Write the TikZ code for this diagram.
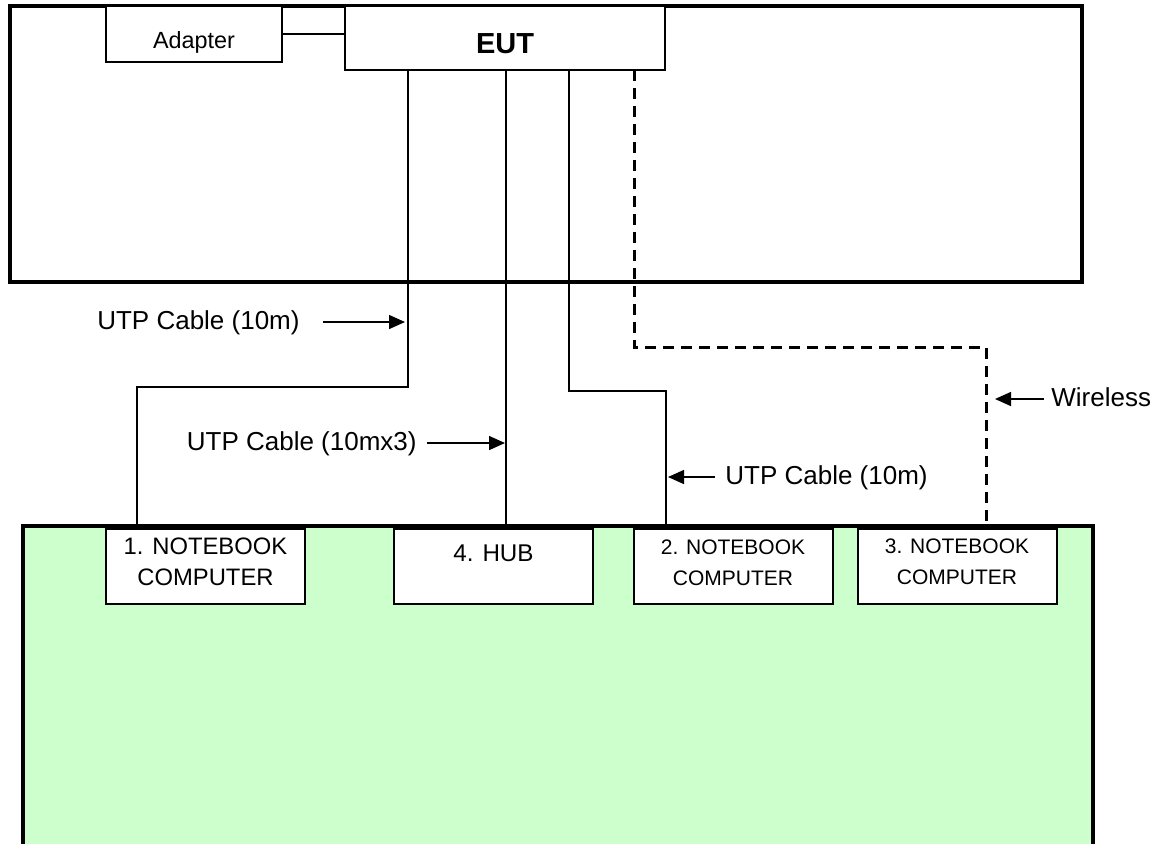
\documentclass[tikz,border=0pt]{standalone}
\usepackage{fontspec}
\setmainfont{Liberation Sans}
\usetikzlibrary{arrows.meta,positioning}
\definecolor{benchgreen}{HTML}{CCFFCC}

\begin{document}
\begin{tikzpicture}[x=0.5pt, y=-0.5pt]
  \tikzstyle{box} = [draw, fill=white, line width=0.8pt, inner sep=0pt, outer sep=0pt]
  \tikzstyle{unit} = [box, minimum width=99.5pt, minimum height=37.5pt]
  \tikzstyle{txt} = [inner sep=0pt, align=center]
  \tikzstyle{lbl} = [inner sep=0pt, text height=0.72em, text depth=0pt, font=\fontsize{13}{15}\selectfont]
  \tikzstyle{cable} = [line width=0.7pt]
  \tikzstyle{radio} = [line width=1.5pt, dash pattern=on 5.5pt off 3.5pt]
  \tikzstyle{arr} = [-{Triangle[length=8pt,width=7pt]}, line width=0.75pt]
  \useasboundingbox (0,0) rectangle (1168,843);
  \clip (0,0) rectangle (1168,843);

  % EUT side
  \draw[line width=2pt] (10,6) rectangle (1082,282);
  \node[box, minimum width=88pt, minimum height=28pt] (adp) at (194,34) {};
  \node[txt, anchor=base, font=\fontsize{11.7}{14}\selectfont] (adpt) at (194,48) {Adapter};
  \node[box, minimum width=160pt, minimum height=32pt] (eut) at (505,38) {};
  \node[txt, anchor=base, font=\fontsize{14.5}{17}\selectfont\bfseries] (eutt) at (505,53) {EUT};
  \draw[cable] (adp.east) -- (adp.east -| eut.west);

  % support units
  \node[draw, fill=benchgreen, line width=2pt, inner sep=0pt, outer sep=0pt,
        minimum width=535pt, minimum height=200pt, anchor=north west] (bench) at (23,526) {};
  \node[unit] (nb1) at (205.5,566.5) {};
  \node[unit] (hub) at (493.5,566.5) {};
  \node[unit] (nb2) at (733.5,566.5) {};
  \node[unit] (nb3) at (957.5,566.5) {};
  \node[txt, anchor=north, font=\fontsize{11.9}{15.5}\selectfont] (nb1t) at (205.5,537) {1. NOTEBOOK\\COMPUTER};
  \node[txt, anchor=north, font=\fontsize{12.1}{15.5}\selectfont] (hubt) at (493.5,544) {4. HUB};
  \node[txt, anchor=north, font=\fontsize{10.5}{15.5}\selectfont] (nb2t) at (733,539) {2. NOTEBOOK\\COMPUTER};
  \node[txt, anchor=north, font=\fontsize{10.5}{15.5}\selectfont] (nb3t) at (957,538) {3. NOTEBOOK\\COMPUTER};

  % cables
  \coordinate (t1) at (408,387);
  \coordinate (b1) at (137,526);
  \coordinate (b2) at (506,526);
  \coordinate (t3) at (569,391);
  \coordinate (b3) at (666,526);
  \coordinate (t4) at (634,347);
  \coordinate (b4) at (986,526);
  \draw[cable] (eut.south -| t1) -- (t1) -| (b1);
  \draw[cable] (eut.south -| b2) -- (b2);
  \draw[cable] (eut.south -| t3) -- (t3) -| (b3);
  \draw[radio] (eut.south -| t4) -- (t4) -| (b4);

  % labels
  \node[lbl, anchor=east] (lab1) at (300,322) {UTP Cable (10m)};
  \node[lbl, anchor=east] (lab2) at (417,443) {UTP Cable (10mx3)};
  \node[lbl, anchor=west] (lab3) at (725,477) {UTP Cable (10m)};
  \node[lbl, anchor=west] (lab4) at (1051,399) {Wireless};
  \coordinate (a1) at (405,322);
  \coordinate (a2) at (505,443);
  \coordinate (a3) at (668,477);
  \coordinate (a4) at (995,399);
  \draw[arr, shorten <=11.5pt] (lab1) -- (a1);
  \draw[arr, shorten <=5pt] (lab2) -- (a2);
  \draw[arr, shorten <=5pt] (lab3) -- (a3);
  \draw[arr, shorten <=3.5pt] (lab4) -- (a4);
\end{tikzpicture}
\end{document}
